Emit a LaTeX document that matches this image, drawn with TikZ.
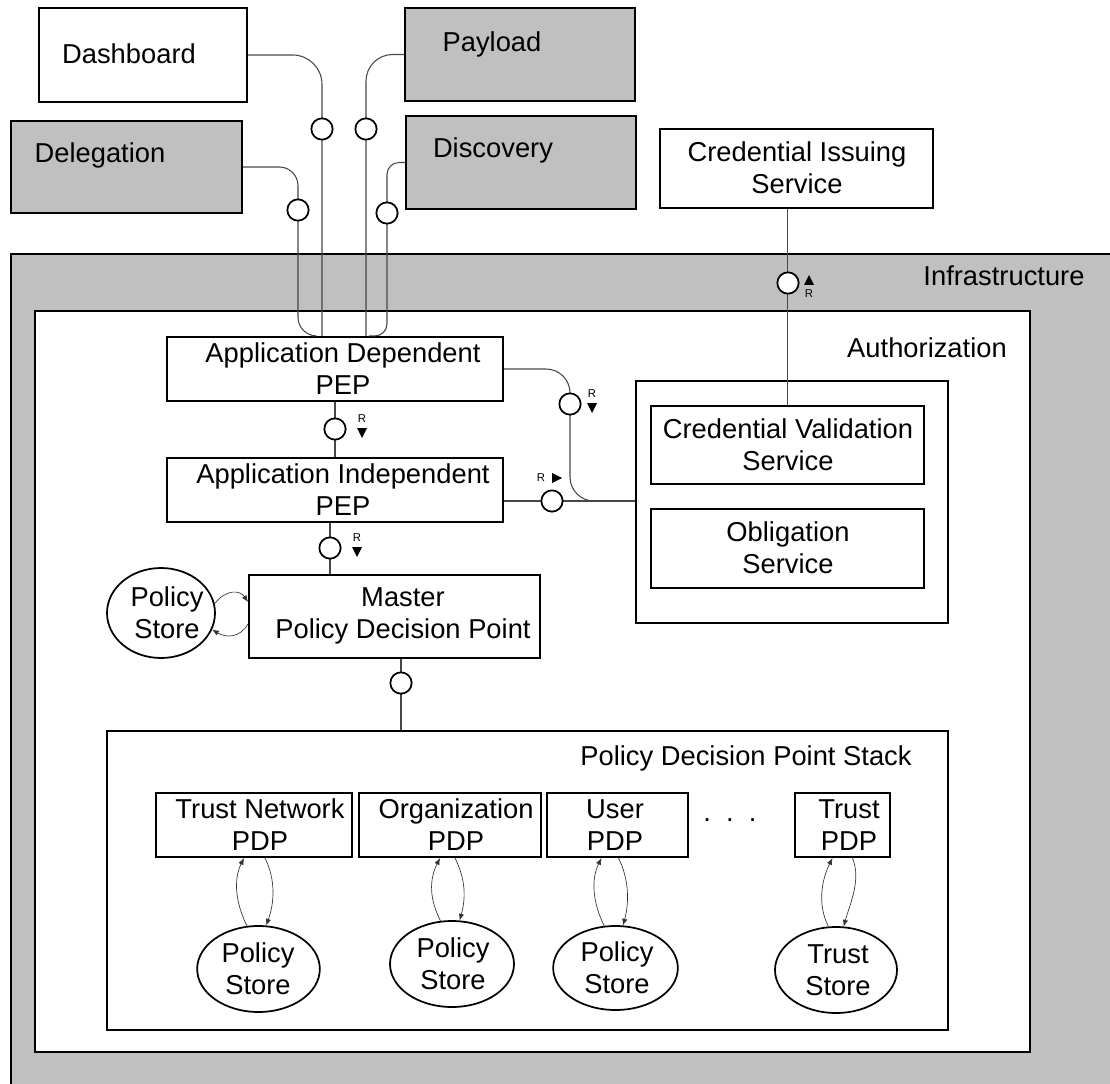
\documentclass[tikz,border=0pt]{standalone}
\usepackage{fontspec}
\setmainfont{Liberation Sans}
\usetikzlibrary{arrows.meta,fit,calc,shapes.geometric}
\definecolor{panel}{HTML}{C0C0C0}
\begin{document}
\begin{tikzpicture}[x=0.75pt,y=-0.75pt,
  frame/.style={draw,line width=1.6pt,inner sep=0pt},
  store/.style={ellipse,draw,line width=1.3pt,fill=white,inner sep=0pt},
  txt/.style={font=\fontsize{20.5}{24}\selectfont,align=center,inner sep=0pt},
  wire/.style={draw=black!72,line width=0.8pt},
  lolli/.style={circle,draw,line width=1.3pt,fill=white,minimum size=16pt,inner sep=0pt},
  loop/.style={draw=black!80,line width=0.5pt,-{Latex[length=5pt,width=4pt]}},
  rmark/.style={font=\fontsize{8.5}{8.5}\selectfont,inner sep=0pt},
  rdown/.pic={\fill (-5,-5) -- (5,-5) -- (0,5) -- cycle; \node[rmark] at (0,-14) {R};},
  rup/.pic={\fill (-5,5) -- (5,5) -- (0,-5) -- cycle; \node[rmark] at (0,14) {R};},
  rright/.pic={\fill (-5,-5) -- (-5,5) -- (5,0) -- cycle; \node[rmark] at (-16,0) {R};}
]
\useasboundingbox (0,0) rectangle (1110,1084);
\clip (0,0) rectangle (1110,1084);

% ---------- containers ----------
\node[frame, fill=panel, fit={(11,254) (1140,1110)}] (infra) {};
\node[frame, fill=white, fit={(35,311) (1030,1052)}] (authz) {};
\node[frame, fill=white, fit={(636,381) (948,623)}] (svc) {};
\node[frame, fill=white, fit={(107,731) (948,1030)}] (stack) {};
\node[txt] (infra-t) at (1004,276) {Infrastructure};
\node[txt] (authz-t) at (927,348) {Authorization};
\node[txt] (stack-t) at (746,758) {Policy Decision Point Stack};

% ---------- outside services ----------
\node[frame, fill=white, fit={(39,8) (247,102)}] (dash) {};
\node[frame, fill=panel, fit={(405,8) (635,101)}] (pay) {};
\node[frame, fill=panel, fit={(11,121) (242,213)}] (deleg) {};
\node[frame, fill=panel, fit={(406,116) (636,209)}] (disc) {};
\node[frame, fill=white, fit={(660,129) (933,208)}] (cis) {};

% ---------- authorization components ----------
\node[frame, fill=white, fit={(167,337) (503,401)}] (ad) {};
\node[frame, fill=white, fit={(167,458) (503,522)}] (ai) {};
\node[frame, fill=white, fit={(249,575) (540,658)}] (mpdp) {};
\node[store, minimum width=81pt, minimum height=67.5pt] (ps0) at (161,613) {};
\node[frame, fill=white, fit={(651,406) (924,484)}] (cv) {};
\node[frame, fill=white, fit={(651,509) (924,588)}] (ob) {};

% ---------- PDP stack ----------
\node[frame, fill=white, fit={(156,793) (352,857)}] (tn) {};
\node[frame, fill=white, fit={(359,793) (541,857)}] (org) {};
\node[frame, fill=white, fit={(547,793) (688,857)}] (usr) {};
\node[frame, fill=white, fit={(795,793) (890,857)}] (tr) {};
\node[store, minimum width=92pt, minimum height=64.5pt] (s1) at (258.5,969) {};
\node[store, minimum width=93pt, minimum height=64.5pt] (s2) at (452,964) {};
\node[store, minimum width=93.5pt, minimum height=63pt] (s3) at (615.5,968) {};
\node[store, minimum width=91.5pt, minimum height=64.5pt] (s4) at (836,970) {};

% ---------- interface wires ----------
\draw[wire, rounded corners=22] (dash.east) -| (322,0 |- ad.north);
\draw[wire, rounded corners=20] (pay.west) -| (366,0 |- ad.north);
\draw[wire, rounded corners=14] (deleg.east) -| (298,0 |- ad.north) -- ++(14,0);
\draw[wire, rounded corners=9] (disc.west) -| (387,0 |- ad.north) -- ++(-18,0);
\draw[wire] (cv.north |- cis.south) -- (cv.north);
\draw[wire] (335,0 |- ad.south) -- (335,0 |- ai.north);
\draw[wire] (330,0 |- ai.south) -- (330,0 |- mpdp.north);
\coordinate (bus) at (svc.west |- 0,501);
\draw[wire, rounded corners=18] (ad.east) -| (570,0 |- bus) -- (bus);
\draw[wire] (ai.east |- bus) -- (bus);
\draw[wire] (401,0 |- mpdp.south) -- (401,0 |- stack.north);

% ---------- provided interfaces ----------
\node[lolli] (i-dash) at (322,129) {};
\node[lolli] (i-pay) at (366,129) {};
\node[lolli] (i-deleg) at (298,210) {};
\node[lolli] (i-disc) at (387,213) {};
\node[lolli] (i-cis) at (788,283) {};
\node[lolli] (i-ad) at (335,429) {};
\node[lolli] (i-ai) at (330,548) {};
\node[lolli] (i-svc1) at (570,404) {};
\node[lolli] (i-svc2) at (552,501) {};
\node[lolli] (i-stack) at (401,683) {};

% request direction marks
\pic at (809,280) {rup};
\pic at (362,433) {rdown};
\pic at (357,552) {rdown};
\pic at (592,408) {rdown};
\pic at (557,478) {rright};

% ---------- store access ----------
\draw[loop] (ps0.10) .. controls (226,589) and (240,590) .. (mpdp.west |- 0,602);
\draw[loop] (mpdp.west |- 0,624) .. controls (240,638) and (226,638) .. (ps0.-18);

\draw[loop] (s1.105) .. controls +(-11,-22) and +(-11,22) .. ($(tn.south)+(-10,0)$);
\draw[loop] ($(tn.south)+(11,0)$) .. controls +(11,22) and +(8,-22) .. (s1.80);
\draw[loop] (s2.105) .. controls +(-11,-22) and +(-11,22) .. ($(org.south)+(-10,0)$);
\draw[loop] ($(org.south)+(5,0)$) .. controls +(11,22) and +(6,-22) .. (s2.80);
\draw[loop] (s3.105) .. controls +(-11,-22) and +(-11,22) .. ($(usr.south)+(-16,0)$);
\draw[loop] ($(usr.south)+(1,0)$) .. controls +(11,22) and +(6,-22) .. (s3.80);
\draw[loop] (s4.100) .. controls +(-11,-22) and +(-11,22) .. ($(tr.south)+(-10,0)$);
\draw[loop] ($(tr.south)+(10,0)$) .. controls +(9,22) and +(6,-22) .. (s4.80);

% ---------- texts ----------
\node[txt] (dash-t) at (129,54) {Dashboard};
\node[txt] (pay-t) at (492,44) {Payload};
\node[txt] (deleg-t) at (100,155) {Delegation};
\node[txt] (disc-t) at (493,150) {Discovery};
\node[txt] (cis-t) at (797,168) {Credential Issuing\\Service};
\node[txt] (ad-t) at (343,369) {Application Dependent\\PEP};
\node[txt] (ai-t) at (343,490) {Application Independent\\PEP};
\node[txt] (mpdp-t) at (403,616) {Master\\Policy Decision Point};
\node[txt] (ps0-t) at (167,613) {Policy\\Store};
\node[txt] (cv-t) at (788,445) {Credential Validation\\Service};
\node[txt] (ob-t) at (788,548) {Obligation\\Service};
\node[txt] (tn-t) at (260,825) {Trust Network\\PDP};
\node[txt] (org-t) at (456,825) {Organization\\PDP};
\node[txt] (usr-t) at (615,825) {User\\PDP};
\node[txt] (tr-t) at (849,825) {Trust\\PDP};
\node[txt] (more) at (730,820) {.\ \ .\ \ .};
\node[txt] (s1-t) at (258,969) {Policy\\Store};
\node[txt] (s2-t) at (453,964) {Policy\\Store};
\node[txt] (s3-t) at (617,968) {Policy\\Store};
\node[txt] (s4-t) at (838,970) {Trust\\Store};
\end{tikzpicture}
\end{document}
